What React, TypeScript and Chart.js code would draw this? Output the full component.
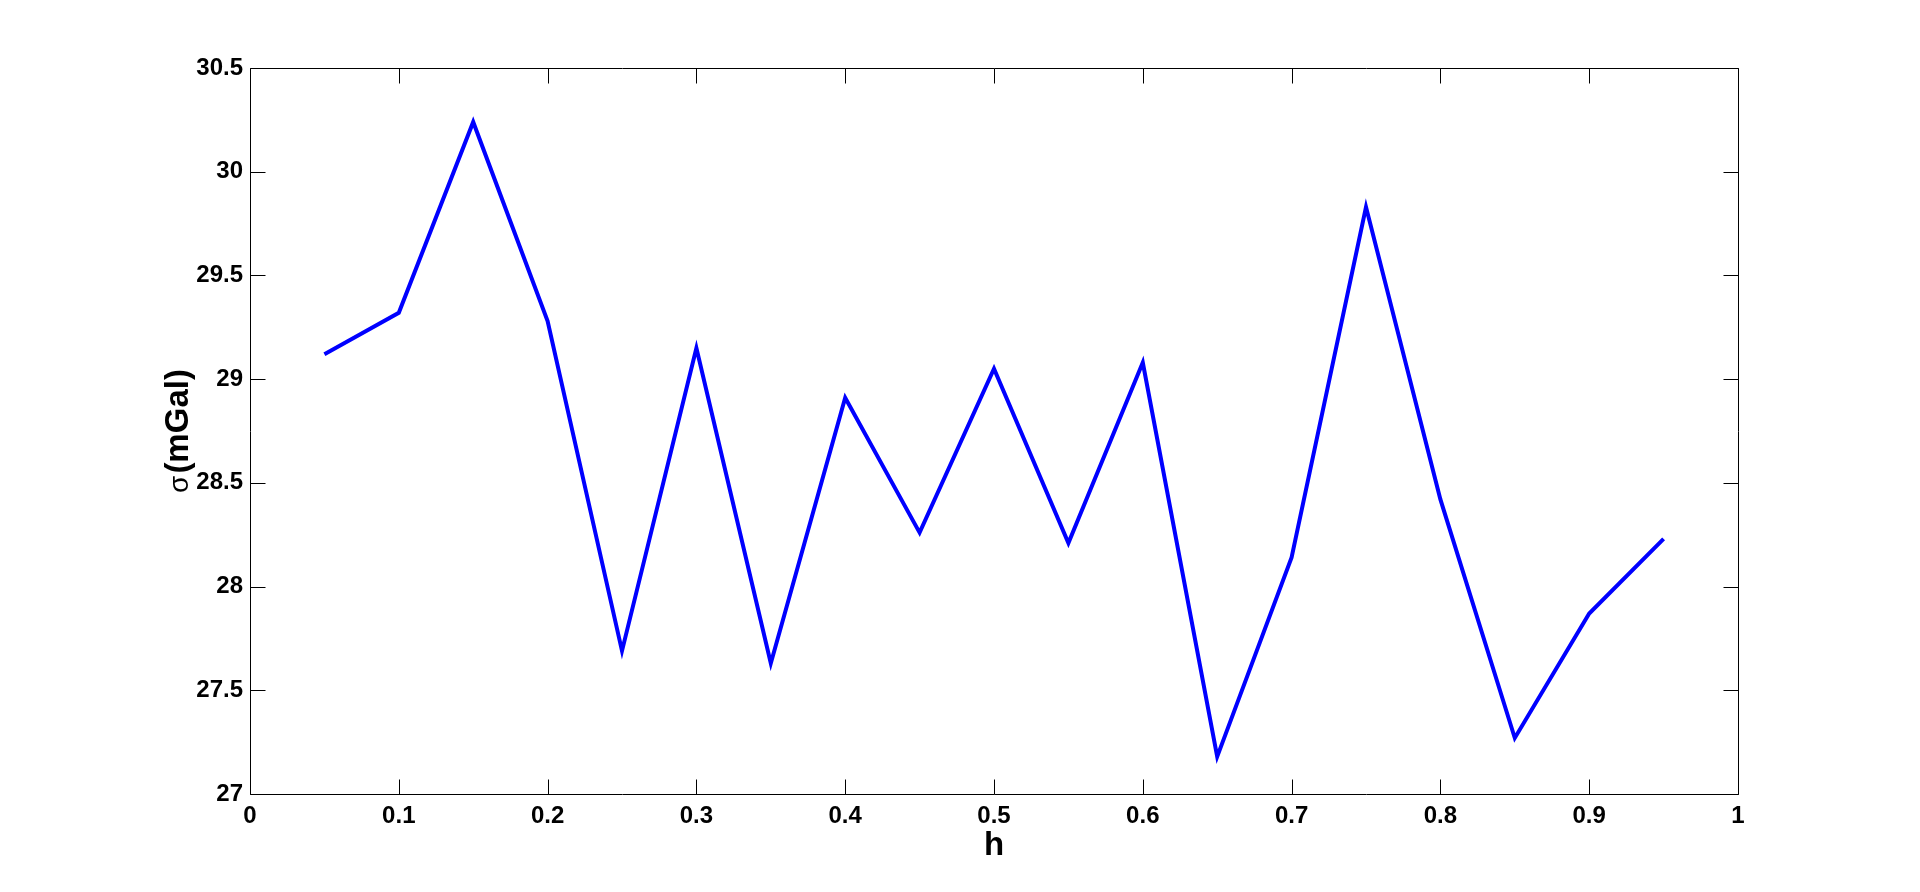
import React, { useEffect, useRef } from "react";
import { Chart, registerables } from "chart.js";

Chart.register(...registerables);

const hValues = [0.05, 0.1, 0.15, 0.2, 0.25, 0.3, 0.35, 0.4, 0.45, 0.5, 0.55, 0.6, 0.65, 0.7, 0.75, 0.8, 0.85, 0.9, 0.95];
const sigmaValues = [29.12, 29.32, 30.24, 29.28, 27.69, 29.15, 27.63, 28.91, 28.26, 29.05, 28.21, 29.08, 27.18, 28.14, 29.83, 28.42, 27.27, 27.87, 28.23];

const xMin = 0;
const xMax = 1;
const xStep = 0.1;
const yMin = 27;
const yMax = 30.5;
const yStep = 0.5;

const xTitle = "h";
const yTitleSymbol = "σ";
const yTitleRest = "(mGal)";

const FONT = '"Liberation Sans", Arial, Helvetica, sans-serif';

const boxPlugin = {
  id: "matlabBox",
  afterDraw(chart: any) {
    const { ctx, chartArea } = chart;
    const { left, right, top, bottom } = chartArea;
    const xs = chart.scales.x;
    const ys = chart.scales.y;
    const tl = 15;
    ctx.save();
    ctx.strokeStyle = "#000";
    ctx.lineWidth = 1;
    ctx.beginPath();
    const L = Math.round(left) + 0.5;
    const R = Math.round(right) + 0.5;
    const T = Math.round(top) + 0.5;
    const B = Math.round(bottom) + 0.5;
    ctx.rect(L, T, R - L, B - T);
    xs.ticks.forEach((t: any) => {
      const px = Math.round(xs.getPixelForValue(t.value)) + 0.5;
      ctx.moveTo(px, B);
      ctx.lineTo(px, B - tl);
      ctx.moveTo(px, T);
      ctx.lineTo(px, T + tl);
    });
    ys.ticks.forEach((t: any) => {
      const py = Math.round(ys.getPixelForValue(t.value)) + 0.5;
      ctx.moveTo(L, py);
      ctx.lineTo(L + tl, py);
      ctx.moveTo(R, py);
      ctx.lineTo(R - tl, py);
    });
    ctx.stroke();

    ctx.fillStyle = "#000";
    ctx.font = `bold 33px ${FONT}`;
    ctx.textAlign = "center";
    ctx.textBaseline = "alphabetic";
    ctx.fillText(xTitle, (left + right) / 2, 855);

    // y title: small normal-weight sigma followed by bold "(mGal)"
    const symFont = `normal 28px ${FONT}`;
    const restFont = `bold 33px ${FONT}`;
    ctx.font = symFont;
    const wSym = ctx.measureText(yTitleSymbol).width;
    ctx.font = restFont;
    const wRest = ctx.measureText(yTitleRest).width;
    const total = wSym + 2 + wRest;
    ctx.save();
    ctx.translate(188, (top + bottom) / 2);
    ctx.rotate(-Math.PI / 2);
    ctx.textAlign = "left";
    ctx.font = symFont;
    ctx.fillText(yTitleSymbol, -total / 2, 0);
    ctx.font = restFont;
    ctx.fillText(yTitleRest, -total / 2 + wSym + 2, 0);
    ctx.restore();
    ctx.restore();
  },
};

export default function App() {
  const canvasRef = useRef<HTMLCanvasElement | null>(null);

  useEffect(() => {
    const canvas = canvasRef.current;
    if (!canvas) return;
    const chart = new Chart(canvas, {
      type: "line",
      data: {
        datasets: [
          {
            data: hValues.map((h, i) => ({ x: h, y: sigmaValues[i] })),
            borderColor: "#0000FF",
            borderWidth: 4,
            pointRadius: 0,
            tension: 0,
            fill: false,
          },
        ],
      },
      options: {
        responsive: false,
        animation: false,
        devicePixelRatio: 1,
        layout: { padding: { left: 0, top: 68, right: 182, bottom: 0 } },
        plugins: {
          legend: { display: false },
          tooltip: { enabled: false },
        },
        scales: {
          x: {
            type: "linear",
            min: xMin,
            max: xMax,
            grid: { display: false, drawTicks: false, tickLength: 0 },
            border: { display: false },
            ticks: {
              stepSize: xStep,
              padding: 8,
              color: "#000",
              maxRotation: 0,
              autoSkip: false,
              font: { family: FONT, size: 24, weight: "bold" },
              callback: (v: any) => String(Number(Number(v).toFixed(1))),
            },
            afterFit: (scale: any) => {
              scale.height = 98;
            },
          },
          y: {
            type: "linear",
            min: yMin,
            max: yMax,
            grid: { display: false, drawTicks: false, tickLength: 0 },
            border: { display: false },
            ticks: {
              stepSize: yStep,
              padding: 7,
              color: "#000",
              autoSkip: false,
              font: { family: FONT, size: 24, weight: "bold" },
              callback: (v: any) => String(Number(Number(v).toFixed(1))),
            },
            afterFit: (scale: any) => {
              scale.width = 250;
            },
          },
        },
      },
      plugins: [boxPlugin],
    });
    return () => chart.destroy();
  }, []);

  return (
    <div style={{ position: "absolute", left: 0, top: 0, width: 1920, height: 892, background: "#fff" }}>
      <canvas ref={canvasRef} width={1920} height={892} style={{ display: "block" }} />
    </div>
  );
}
